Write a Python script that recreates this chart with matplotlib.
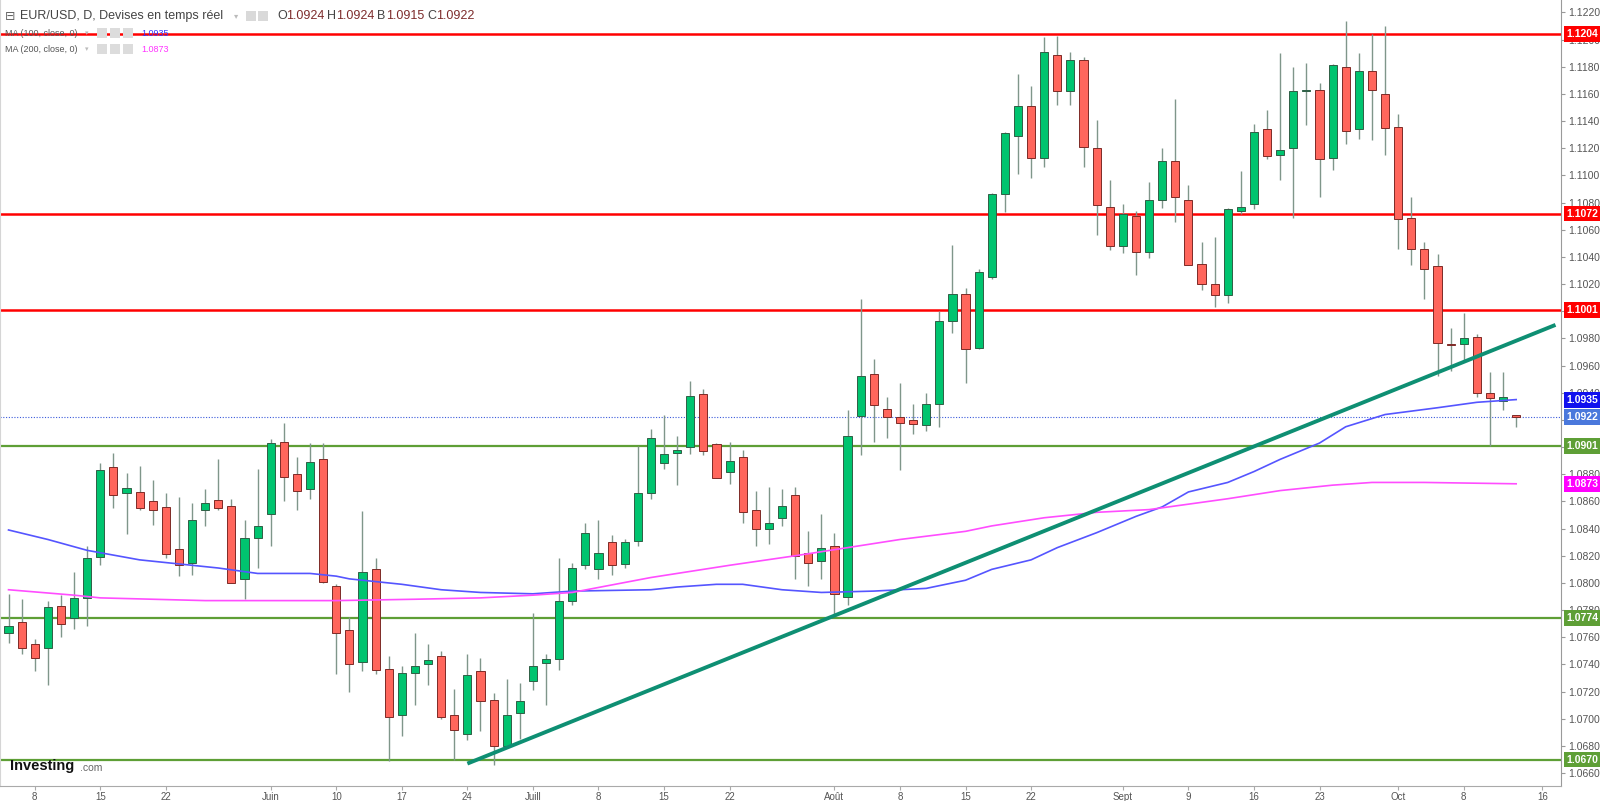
import matplotlib
matplotlib.use('Agg')
import matplotlib.pyplot as plt
import matplotlib.patches as patches
import numpy as np

plt.rcParams['font.family'] = ['Liberation Sans', 'DejaVu Sans']

# daily candles, bar index 0..115
opens = [1.0763, 1.0771, 1.0755, 1.0752, 1.0783, 1.0774, 1.0789, 1.0819, 1.0885, 1.0866,
         1.0867, 1.0860, 1.0856, 1.0825, 1.0815, 1.0854, 1.0861, 1.0857, 1.0803, 1.0833,
         1.0851, 1.0904, 1.0880, 1.0869, 1.0891, 1.0798, 1.0765, 1.0742, 1.0810, 1.0737,
         1.0703, 1.0734, 1.0740, 1.0746, 1.0703, 1.0689, 1.0735, 1.0714, 1.0680, 1.0704,
         1.0728, 1.0741, 1.0744, 1.0787, 1.0813, 1.0810, 1.0830, 1.0814, 1.0831, 1.0866,
         1.0888, 1.0896, 1.0900, 1.0939, 1.0902, 1.0882, 1.0893, 1.0854, 1.0840, 1.0848,
         1.0865, 1.0822, 1.0816, 1.0827, 1.0790, 1.0923, 1.0954, 1.0928, 1.0922, 1.0920,
         1.0916, 1.0932, 1.0993, 1.1013, 1.0973, 1.1025, 1.1086, 1.1129, 1.1151, 1.1113,
         1.1189, 1.1162, 1.1185, 1.1120, 1.1077, 1.1048, 1.1070, 1.1044, 1.1082, 1.1111,
         1.1082, 1.1035, 1.1020, 1.1012, 1.1074, 1.1079, 1.1134, 1.1115, 1.1120, 1.1162,
         1.1163, 1.1113, 1.1180, 1.1134, 1.1177, 1.1160, 1.1136, 1.1069, 1.1046, 1.1033,
         1.0976, 1.0976, 1.0981, 1.0940, 1.0934, 1.0924]
highs = [1.0792, 1.0788, 1.0759, 1.0787, 1.0791, 1.0808, 1.0827, 1.0888, 1.0896, 1.0881,
         1.0886, 1.0876, 1.0866, 1.0863, 1.0859, 1.0869, 1.0891, 1.0862, 1.0846, 1.0884,
         1.0906, 1.0918, 1.0893, 1.0903, 1.0903, 1.0799, 1.0775, 1.0853, 1.0818, 1.0746,
         1.0739, 1.0763, 1.0755, 1.0750, 1.0722, 1.0748, 1.0745, 1.0719, 1.0729, 1.0726,
         1.0778, 1.0748, 1.0818, 1.0815, 1.0844, 1.0846, 1.0835, 1.0832, 1.0901, 1.0913,
         1.0924, 1.0908, 1.0949, 1.0943, 1.0903, 1.0904, 1.0898, 1.0868, 1.0871, 1.0869,
         1.0871, 1.0838, 1.0851, 1.0837, 1.0927, 1.1009, 1.0965, 1.0937, 1.0947, 1.0932,
         1.0940, 1.1000, 1.1049, 1.1017, 1.1031, 1.1087, 1.1132, 1.1175, 1.1166, 1.1202,
         1.1203, 1.1191, 1.1187, 1.1141, 1.1097, 1.1079, 1.1074, 1.1095, 1.1120, 1.1156,
         1.1093, 1.1051, 1.1055, 1.1076, 1.1103, 1.1138, 1.1148, 1.1190, 1.1180, 1.1183,
         1.1168, 1.1182, 1.1214, 1.1190, 1.1204, 1.1210, 1.1145, 1.1084, 1.1051, 1.1042,
         1.0988, 1.0999, 1.0983, 1.0955, 1.0955, 1.0924]
lows = [1.0756, 1.0748, 1.0735, 1.0725, 1.0760, 1.0766, 1.0768, 1.0813, 1.0855, 1.0836,
        1.0854, 1.0843, 1.0818, 1.0805, 1.0806, 1.0842, 1.0854, 1.0800, 1.0788, 1.0811,
        1.0827, 1.0860, 1.0854, 1.0862, 1.0800, 1.0733, 1.0720, 1.0735, 1.0733, 1.0669,
        1.0687, 1.0710, 1.0725, 1.0700, 1.0670, 1.0684, 1.0691, 1.0666, 1.0679, 1.0685,
        1.0721, 1.0710, 1.0736, 1.0784, 1.0810, 1.0803, 1.0806, 1.0811, 1.0827, 1.0862,
        1.0884, 1.0872, 1.0895, 1.0894, 1.0877, 1.0873, 1.0844, 1.0827, 1.0829, 1.0842,
        1.0803, 1.0798, 1.0803, 1.0776, 1.0784, 1.0894, 1.0904, 1.0907, 1.0883, 1.0910,
        1.0912, 1.0915, 1.0984, 1.0947, 1.0972, 1.1024, 1.1073, 1.1101, 1.1098, 1.1106,
        1.1152, 1.1152, 1.1106, 1.1056, 1.1045, 1.1043, 1.1027, 1.1039, 1.1076, 1.1066,
        1.1034, 1.1016, 1.1003, 1.1006, 1.1072, 1.1075, 1.1112, 1.1097, 1.1069, 1.1137,
        1.1084, 1.1104, 1.1123, 1.1127, 1.1126, 1.1115, 1.1046, 1.1034, 1.1009, 1.0952,
        1.0956, 1.0964, 1.0937, 1.0901, 1.0927, 1.0915]
closes = [1.0768, 1.0752, 1.0745, 1.0782, 1.0770, 1.0789, 1.0818, 1.0883, 1.0865, 1.0870,
          1.0855, 1.0854, 1.0821, 1.0813, 1.0846, 1.0859, 1.0855, 1.0800, 1.0833, 1.0842,
          1.0903, 1.0878, 1.0868, 1.0889, 1.0801, 1.0763, 1.0740, 1.0808, 1.0736, 1.0701,
          1.0734, 1.0739, 1.0743, 1.0701, 1.0692, 1.0732, 1.0713, 1.0680, 1.0703, 1.0713,
          1.0739, 1.0744, 1.0787, 1.0811, 1.0837, 1.0822, 1.0813, 1.0830, 1.0866, 1.0907,
          1.0895, 1.0898, 1.0938, 1.0897, 1.0877, 1.0890, 1.0852, 1.0840, 1.0844, 1.0857,
          1.0820, 1.0815, 1.0826, 1.0792, 1.0908, 1.0952, 1.0931, 1.0922, 1.0918, 1.0917,
          1.0932, 1.0993, 1.1013, 1.0972, 1.1029, 1.1086, 1.1131, 1.1151, 1.1113, 1.1191,
          1.1162, 1.1185, 1.1121, 1.1078, 1.1048, 1.1072, 1.1044, 1.1082, 1.1111, 1.1084,
          1.1034, 1.1020, 1.1012, 1.1075, 1.1077, 1.1132, 1.1114, 1.1119, 1.1162, 1.1163,
          1.1112, 1.1181, 1.1133, 1.1177, 1.1163, 1.1135, 1.1068, 1.1046, 1.1031, 1.0977,
          1.0975, 1.0980, 1.0940, 1.0936, 1.0937, 1.0922]

# moving averages (bar index, value)
ma100_x = [0, 3, 6, 10, 13, 16, 19, 23, 25, 26, 28, 30, 33, 36, 40, 43, 49, 51, 54, 56,
           59, 62, 66, 70, 73, 75, 78, 80, 83, 86, 88, 90, 93, 95, 97, 100, 102, 105, 109, 112, 115]
ma100_y = [1.0839, 1.0832, 1.0824, 1.0817, 1.0814, 1.0811, 1.0807, 1.0807, 1.0805, 1.0803,
           1.0801, 1.0799, 1.0795, 1.0793, 1.0792, 1.0794, 1.0795, 1.0797, 1.0799, 1.0799,
           1.0795, 1.0793, 1.0794, 1.0796, 1.0802, 1.0810, 1.0817, 1.0826, 1.0837, 1.0849,
           1.0856, 1.0867, 1.0874, 1.0882, 1.0891, 1.0903, 1.0915, 1.0924, 1.0929, 1.0933, 1.0935]
ma200_x = [0, 5, 7, 15, 20, 25, 31, 36, 40, 43, 49, 51, 55, 60, 64, 68, 73, 75, 79, 83,
           87, 90, 93, 97, 101, 104, 108, 115]
ma200_y = [1.0795, 1.0791, 1.0789, 1.0787, 1.0787, 1.0787, 1.0788, 1.0789, 1.0791, 1.0793,
           1.0804, 1.0807, 1.0813, 1.0820, 1.0826, 1.0832, 1.0838, 1.0842, 1.0848, 1.0852,
           1.0854, 1.0858, 1.0862, 1.0868, 1.0872, 1.0874, 1.0874, 1.0873]

trend_x = [35, 118]
trend_y = [1.0667, 1.0990]

res_levels = [1.1204, 1.1072, 1.1001]
sup_levels = [1.0901, 1.0774, 1.0670]
last_price = 1.0922

xtick_pos = [2, 7, 12, 20, 25, 30, 35, 40, 45, 50, 55, 63, 68, 73, 78, 85, 90, 95, 100, 106, 111, 117]
xtick_lab = ['8', '15', '22', 'Juin', '10', '17', '24', 'Juill', '8', '15', '22', 'Août',
             '8', '15', '22', 'Sept', '9', '16', '23', 'Oct', '8', '16']

W, H = 1600, 801
fig = plt.figure(figsize=(W / 100, H / 100), dpi=100)
ax = fig.add_axes([0, 15 / H, 1561 / W, 786 / H])
ax.set_xlim(-0.65, 118.42)
ax.set_ylim(1.06505, 1.12292)

GREEN_BODY = '#00c46f'
RED_BODY = '#ff665c'
idx = np.arange(len(opens))
o = np.array(opens); c = np.array(closes)
up = c >= o
ax.vlines(idx, lows, highs, color='#7f968a', lw=1.0, zorder=3)
bottoms = np.minimum(o, c)
heights = np.maximum(np.abs(c - o), 0.00005)
ax.bar(idx[up], heights[up], bottom=bottoms[up], width=0.62, color=GREEN_BODY,
       edgecolor='#2f5e45', linewidth=0.7, zorder=4)
ax.bar(idx[~up], heights[~up], bottom=bottoms[~up], width=0.62, color=RED_BODY,
       edgecolor='#7d2a26', linewidth=0.7, zorder=4)

for lv in res_levels:
    ax.axhline(lv, color='#ff0000', lw=1.8, zorder=2)
for lv in sup_levels:
    ax.axhline(lv, color='#5e9f36', lw=1.6, zorder=2)
ax.axhline(last_price, color='#3b5bdb', lw=0.8, ls=(0, (1, 1.5)), zorder=2)

ax.plot(ma100_x, ma100_y, color='#5555ff', lw=1.2, zorder=5)
ax.plot(ma200_x, ma200_y, color='#ff4dff', lw=1.2, zorder=5)
ax.plot(trend_x, trend_y, color='#0e8f73', lw=2.8, zorder=6, solid_capstyle='butt')

# axes styling
ax.spines['top'].set_visible(False)
ax.spines['left'].set_color('#d5d5d5')
ax.spines['right'].set_color('#9a9a9a')
ax.spines['bottom'].set_color('#aaaaaa')
ax.yaxis.tick_right()
yt = np.arange(1.0660, 1.12201, 0.0020)
ax.set_yticks(yt)
ax.set_yticklabels(['%.4f' % v for v in yt])
ax.tick_params(axis='y', length=3, pad=2, labelsize=7.5, colors='#555555', color='#999999')
ax.set_xticks(xtick_pos)
ax.set_xticklabels(xtick_lab)
ax.tick_params(axis='x', length=3, pad=1, labelsize=7, colors='#555555', color='#aaaaaa')

# price labels on the right axis
tr = ax.get_yaxis_transform()
boxes = [(1.1204, '#ff0000'), (1.1072, '#ff0000'), (1.1001, '#ff0000'),
         (1.0935, '#1111ee'), (1.0922, '#4a78dc'), (1.0901, '#5e9f36'),
         (1.0873, '#ff00ff'), (1.0774, '#5e9f36'), (1.0670, '#5e9f36')]
for v, col in boxes:
    ax.text(1.0035, v, '%.4f' % v, transform=tr, ha='left', va='center', fontsize=7.5,
            fontweight='bold', color='white', clip_on=False, zorder=10,
            bbox=dict(boxstyle='square,pad=0.28', fc=col, ec='none'))


def px(x, y):
    return x / W, 1 - y / H


# legend header
fig.text(*px(5, 16), '\u229f', fontsize=9, color='#666666', va='center', family=['DejaVu Sans'])
fig.text(*px(20, 16), 'EUR/USD, D, Devises en temps réel', fontsize=9, color='#444444', va='center')
fig.text(*px(234, 16), '\u25be', fontsize=6, color='#bbbbbb', va='center', family=['DejaVu Sans'])
for x0 in (246, 258):
    fig.patches.append(patches.Rectangle(px(x0, 21), 10 / W, 10 / H, transform=fig.transFigure,
                                         fc='#d9d9d9', ec='none'))
ohlc = [('O', 277, '1.0924'), ('H', 327, '1.0924'), ('B', 377, '1.0915'), ('C', 427, '1.0922')]
for lab, x0, val in ohlc:
    fig.text(*px(x0, 16), lab, fontsize=9, color='#444444', va='center')
    fig.text(*px(x0 + 9, 16), val, fontsize=9, color='#7d2b2b', va='center')

for yy, name, val, col in [(33, 'MA (100, close, 0)', '1.0935', '#3333ff'),
                           (49, 'MA (200, close, 0)', '1.0873', '#ff33ff')]:
    fig.text(*px(5, yy), name, fontsize=6.5, color='#555555', va='center')
    fig.text(*px(85, yy), '\u25be', fontsize=5, color='#bbbbbb', va='center', family=['DejaVu Sans'])
    for x0 in (97, 110, 123):
        fig.patches.append(patches.Rectangle(px(x0, yy + 5), 10 / W, 10 / H,
                                             transform=fig.transFigure, fc='#dcdcdc', ec='none'))
    fig.text(*px(141, yy), val, fontsize=6.5, color=col, va='center')

# Investing.com logo
fig.text(*px(10, 766), 'Investing', fontsize=10.5, fontweight='bold', color='#111111', va='center')
fig.text(*px(80, 768), '.com', fontsize=7.5, color='#666666', va='center')

fig.savefig('out.png', dpi=100)
